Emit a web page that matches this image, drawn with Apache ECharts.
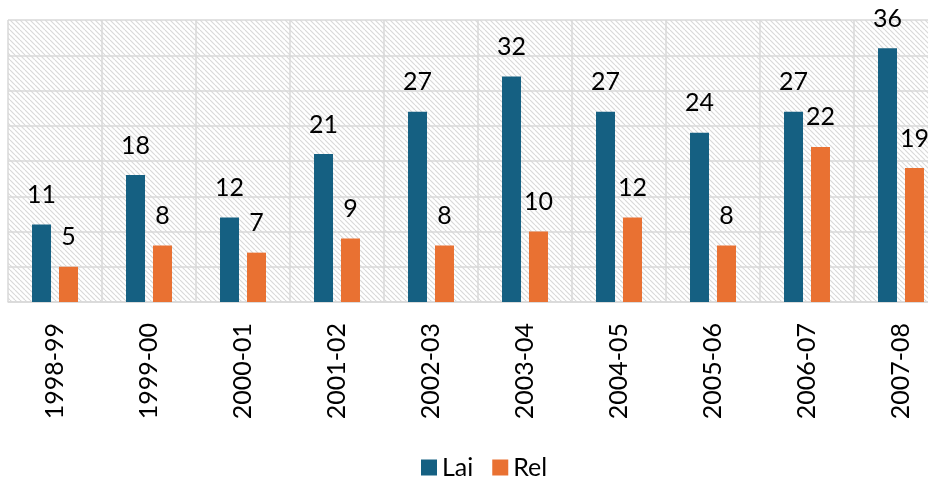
<!DOCTYPE html>
<html><head><meta charset="utf-8">
<script src="https://cdn.jsdelivr.net/npm/echarts@6/dist/echarts.min.js"></script>
<style>html,body{margin:0;padding:0;background:#fff}#c{width:928px;height:479px}</style>
</head><body><div id="c"></div>
<script>
var categories = ['1998-99','1999-00','2000-01','2001-02','2002-03','2003-04','2004-05','2005-06','2006-07','2007-08'];
var laiValues = [11,18,12,21,27,32,27,24,27,36];
var relValues = [5,8,7,9,8,10,12,8,22,19];
var seriesNames = ['Lai','Rel'];

var tile = document.createElement('canvas');
var s = 5;
tile.width = s; tile.height = s;
var cx = tile.getContext('2d');
cx.fillStyle = '#ffffff'; cx.fillRect(0,0,s,s);
cx.strokeStyle = '#d9d9d9'; cx.lineWidth = 1.2;
[-s,0,s].forEach(function(k){ cx.beginPath(); cx.moveTo(k,0); cx.lineTo(k+s,s); cx.stroke(); });

var font = 'Lato, "Open Sans", sans-serif';
var chart = echarts.init(document.getElementById('c'));
chart.setOption({
  animation: false,
  textStyle: {fontFamily: font},
  legend: {
    data: seriesNames, left: 416, top: 450, icon: 'rect', itemWidth: 16, itemHeight: 16, itemGap: 19,
    textStyle: {fontSize: 25, color: '#000', fontFamily: font}
  },
  grid: {left: 8, right: -20, top: 20, bottom: 177, show: true, borderWidth: 0,
    backgroundColor: {image: tile, repeat: 'repeat'}, containLabel: false, outerBoundsMode: 'none'},
  xAxis: {
    type: 'category', data: categories,
    axisLine: {lineStyle: {color: '#d9d9d9', width: 1.5}},
    axisTick: {show: false},
    splitLine: {show: true, lineStyle: {color: '#d9d9d9', width: 1.5}},
    axisLabel: {rotate: 90, fontSize: 25, color: '#000', margin: 21, fontFamily: font, interval: 0}
  },
  yAxis: {
    type: 'value', min: 0, max: 40, interval: 5,
    axisLine: {show: false}, axisTick: {show: false}, axisLabel: {show: false},
    splitLine: {lineStyle: {color: '#d9d9d9', width: 1.5}}
  },
  series: [
    {name: seriesNames[0], type: 'bar', data: laiValues, barWidth: 19, barGap: '42%',
     itemStyle: {color: '#156082'},
     label: {show: true, position: 'top', distance: 17, fontSize: 25, color: '#000', fontFamily: font}},
    {name: seriesNames[1], type: 'bar', data: relValues, barWidth: 19,
     itemStyle: {color: '#E97132'},
     label: {show: true, position: 'top', distance: 17, fontSize: 25, color: '#000', fontFamily: font}}
  ]
});
</script></body></html>
